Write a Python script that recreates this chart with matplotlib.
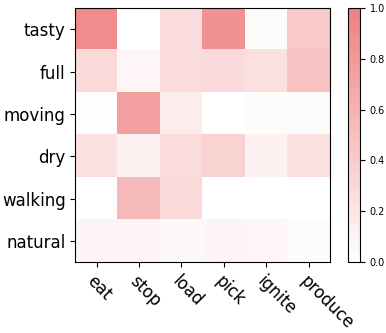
import numpy as np
import matplotlib
matplotlib.use('Agg')
import matplotlib.pyplot as plt
from matplotlib.colors import LinearSegmentedColormap

verbs = ['eat', 'stop', 'load', 'pick', 'ignite', 'produce']
adjectives = ['tasty', 'full', 'moving', 'dry', 'walking', 'natural']

# attention weights, one row per adjective
tasty = [0.90, 0.00, 0.27, 0.86, 0.03, 0.42]
full = [0.30, 0.07, 0.27, 0.29, 0.24, 0.48]
moving = [0.02, 0.75, 0.14, 0.00, 0.03, 0.03]
dry = [0.24, 0.11, 0.27, 0.35, 0.11, 0.24]
walking = [0.00, 0.55, 0.30, 0.00, 0.00, 0.00]
natural = [0.08, 0.08, 0.05, 0.08, 0.07, 0.03]

weights = np.array([tasty, full, moving, dry, walking, natural])

cmap = LinearSegmentedColormap.from_list('wr', ['white', 'lightcoral'])

fig = plt.figure(figsize=(3.86, 3.33), dpi=100)
ax = fig.add_axes([0.195, 0.213, 0.66, 0.763])
cax = fig.add_axes([0.902, 0.213, 0.031, 0.763])

im = ax.imshow(weights, cmap=cmap, vmin=0, vmax=1, aspect='auto')
ax.set_xticks(range(len(verbs)))
ax.set_xticklabels(verbs, rotation=-45, ha='left', rotation_mode='anchor', fontsize=12)
ax.set_yticks(range(len(adjectives)))
ax.set_yticklabels(adjectives, fontsize=12)

cb = fig.colorbar(im, cax=cax)
cb.ax.tick_params(labelsize=7)

plt.savefig('out.png', dpi=100)
